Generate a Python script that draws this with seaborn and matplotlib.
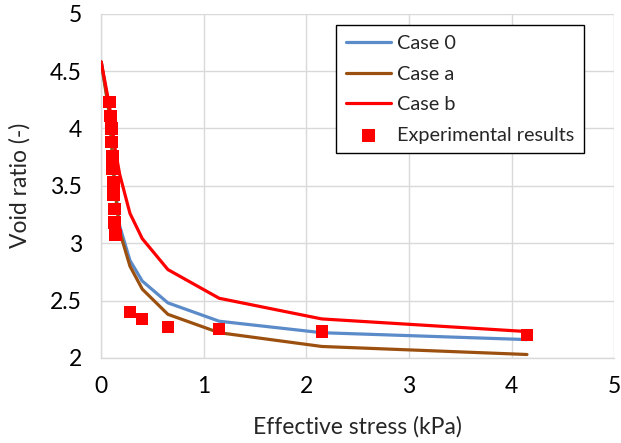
import numpy as np
import pandas as pd
import matplotlib
matplotlib.use("Agg")
import matplotlib.pyplot as plt
import seaborn as sns

# Effective stress (kPa) at which each model curve was evaluated
stress_model = [0.0, 0.08, 0.13, 0.18, 0.28, 0.40, 0.65, 1.15, 2.15, 4.15]
void_case0 = [4.58, 4.15, 3.55, 3.15, 2.85, 2.67, 2.48, 2.32, 2.22, 2.16]
void_case_a = [4.58, 4.12, 3.50, 3.10, 2.80, 2.60, 2.38, 2.22, 2.10, 2.03]
void_case_b = [4.58, 4.20, 3.85, 3.60, 3.26, 3.04, 2.77, 2.52, 2.34, 2.23]

# Measured points
stress_exp = [0.08, 0.09, 0.10, 0.10, 0.11, 0.11, 0.12, 0.12, 0.13, 0.13, 0.14,
              0.28, 0.40, 0.65, 1.15, 2.15, 4.15]
void_exp = [4.23, 4.11, 4.00, 3.88, 3.76, 3.65, 3.53, 3.42, 3.30, 3.18, 3.07,
            2.40, 2.34, 2.27, 2.25, 2.23, 2.20]

case_names = ["Case 0", "Case a", "Case b"]
case_colors = ["#5B8BC8", "#9C5010", "#FF0000"]
exp_label = "Experimental results"

model_df = pd.concat([
    pd.DataFrame({"stress": stress_model, "void": v, "case": name})
    for name, v in zip(case_names, [void_case0, void_case_a, void_case_b])
], ignore_index=True)
exp_df = pd.DataFrame({"stress": stress_exp, "void": void_exp, "case": exp_label})

sns.set_style("white")
plt.rcParams["font.family"] = ["Lato", "DejaVu Sans"]

fig = plt.figure(figsize=(6.21, 4.43), dpi=100)
ax = fig.add_axes([0.163, 0.192, 0.826, 0.777])

sns.lineplot(data=model_df, x="stress", y="void", hue="case",
             palette=dict(zip(case_names, case_colors)), hue_order=case_names,
             estimator=None, sort=False, linewidth=2.3, ax=ax, zorder=3)
sns.scatterplot(data=exp_df, x="stress", y="void", color="#FF0000",
                marker="s", s=80, edgecolor="none", label=exp_label,
                ax=ax, zorder=4)

ax.set_xlim(0, 5)
ax.set_ylim(2, 5)
ax.set_xticks(np.arange(0, 6, 1))
ax.set_yticks([2, 2.5, 3, 3.5, 4, 4.5, 5])
ax.set_yticklabels(["2", "2.5", "3", "3.5", "4", "4.5", "5"])
ax.grid(True, color="#D9D9D9", linewidth=1.0)
ax.set_axisbelow(True)
for side in ["top", "right"]:
    ax.spines[side].set_visible(False)
for side in ["left", "bottom"]:
    ax.spines[side].set_color("#D9D9D9")
    ax.spines[side].set_linewidth(1.0)
ax.tick_params(axis="both", length=0, labelsize=16.5, colors="black")
ax.tick_params(axis="y", pad=14)
ax.tick_params(axis="x", pad=13)

ax.set_xlabel("Effective stress (kPa)", fontsize=16.5, labelpad=14)
ax.set_ylabel("Void ratio (-)", fontsize=16.5, labelpad=14)

handles, labels = ax.get_legend_handles_labels()
leg = ax.legend(handles, labels, loc="upper right", bbox_to_anchor=(0.942, 0.967),
                fontsize=14.3, frameon=True, fancybox=False, edgecolor="black",
                framealpha=1, handlelength=2.3, labelspacing=0.68,
                borderpad=0.5, handletextpad=0.3, borderaxespad=0)
leg.get_frame().set_linewidth(1.0)

fig.savefig("out.png", dpi=100)
